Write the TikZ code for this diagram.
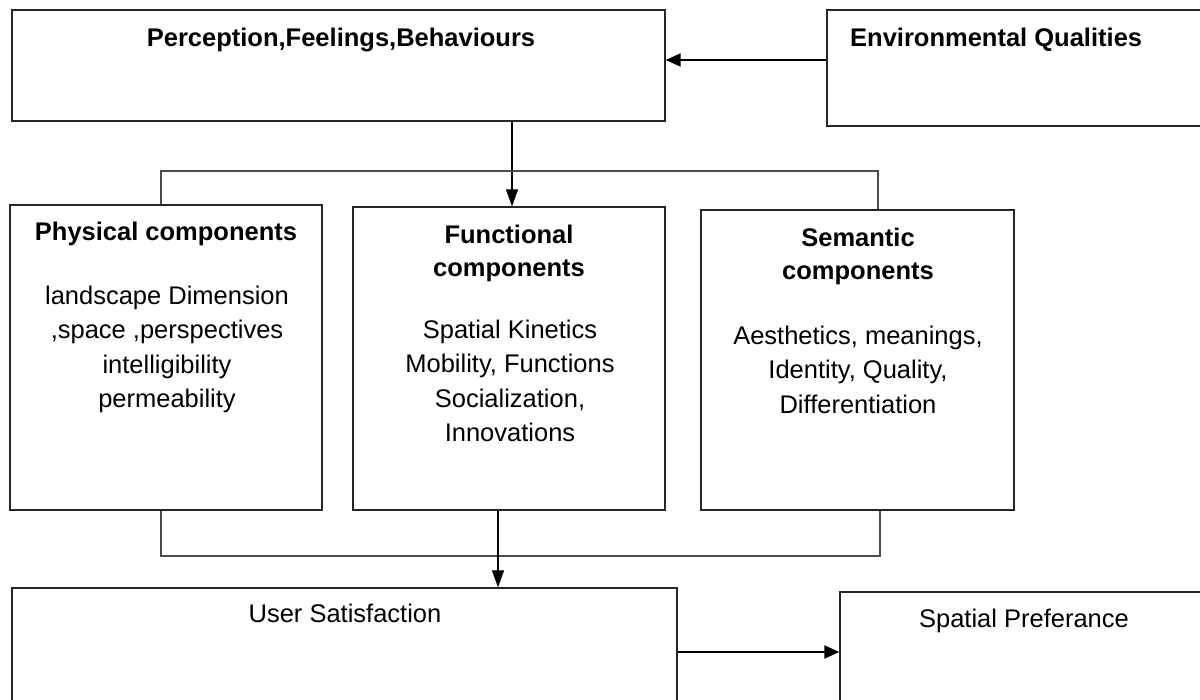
\documentclass[tikz,border=0pt]{standalone}
\usepackage{fontspec}
\setmainfont{Liberation Sans}
\usetikzlibrary{arrows.meta}
\tikzset{
  box/.style={draw=black!85, line width=1.3pt, inner sep=0pt, minimum width=#1},
  box/.default=10pt,
  conn/.style={draw=black!70, line width=1.1pt},
  arr/.style={draw=black, line width=1.2pt, -{Triangle[length=17pt,width=12pt]}},
  thickarr/.style={draw=black, line width=2pt, -{Triangle[length=15pt,width=13pt]}},
  ttl/.style={font=\fontsize{25.5}{33}\bfseries\selectfont, align=center, inner sep=0pt, anchor=north},
  txt/.style={font=\fontsize{25.5}{34.5}\selectfont, align=center, inner sep=0pt, anchor=north}
}
\begin{document}
\begin{tikzpicture}[x=1pt,y=-1pt]
\clip (0,0) rectangle (1200,700);
\fill[white] (0,0) rectangle (1200,700);
% boxes
\node[box=653pt, minimum height=111pt] (P) at (338.5,65.5) {};
\node[box=403pt, minimum height=116pt] (E) at (1028.5,68) {};
\node[box=312pt, minimum height=305pt] (Phys) at (166,357.5) {};
\node[box=312pt, minimum height=303pt] (Func) at (509,358.5) {};
\node[box=313pt, minimum height=300pt] (Sem) at (857.5,360) {};
\node[box=665pt, minimum height=152pt] (US) at (344.5,664) {};
\node[box=390pt, minimum height=148pt] (SP) at (1035,666) {};
% texts
\node[ttl] (Ptext) at (341,27) {\rule{0pt}{19pt}Perception,Feelings,Behaviours};
\node[ttl, anchor=north west] (Etext) at (850,27) {\rule{0pt}{19pt}Environmental Qualities};
\node[ttl] (PhysT) at (166,221) {\rule{0pt}{19pt}Physical components};
\node[txt] (PhysB) at (167,285) {\rule{0pt}{19pt}landscape Dimension\\,space ,perspectives\\intelligibility\\permeability};
\node[ttl] (FuncT) at (509,224) {\rule{0pt}{19pt}Functional\\components};
\node[txt] (FuncB) at (510,319) {\rule{0pt}{19pt}Spatial Kinetics\\Mobility, Functions\\Socialization,\\Innovations};
\node[ttl] (SemT) at (858,227) {\rule{0pt}{19pt}Semantic\\components};
\node[txt] (SemB) at (858,325) {\rule{0pt}{19pt}Aesthetics, meanings,\\Identity, Quality,\\Differentiation};
\node[txt] (UStext) at (345,603) {\rule{0pt}{19pt}User Satisfaction};
\node[txt] (SPtext) at (1024,608) {\rule{0pt}{19pt}Spatial Preferance};
% connectors
\draw[thickarr] ([yshift=8pt]E.west) -- ([yshift=8pt]E.west -| P.east);
\draw[arr] ([xshift=3pt]Func.north |- P.south) -- ([xshift=3pt]Func.north);
\draw[conn] ([xshift=-5pt]Phys.north) -- ([xshift=-5pt]Phys.north |- 0,171) -| ([xshift=20.5pt]Sem.north);
\draw[conn] ([xshift=-5pt]Phys.south) -- ([xshift=-5pt]Phys.south |- 0,556) -| ([xshift=22.5pt]Sem.south);
\draw[arr] ([xshift=-11pt]Func.south) -- ([xshift=-11pt]Func.south |- US.north);
\draw[thickarr] ([yshift=12pt]US.east) -- ([yshift=12pt]US.east -| SP.west);
\end{tikzpicture}
\end{document}
